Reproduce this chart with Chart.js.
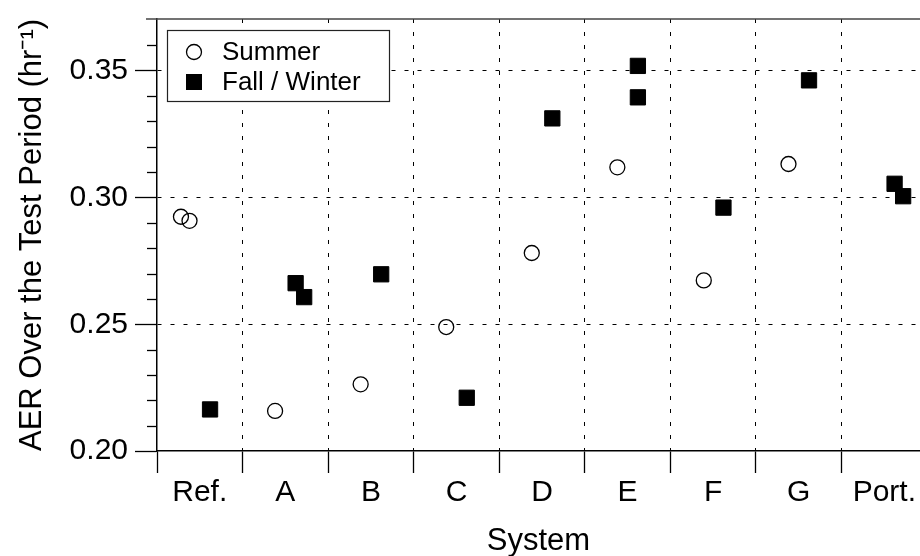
<!DOCTYPE html>
<html>
<head>
<meta charset="utf-8">
<script src="https://cdn.jsdelivr.net/npm/chart.js@4.4.1/dist/chart.umd.min.js"></script>
<style>
  html, body { margin: 0; padding: 0; background: #fff; }
  #wrap { width: 920px; height: 556px; }
</style>
</head>
<body>
<div id="wrap"><canvas id="aerChart"></canvas></div>
<script>
const systems = ['Ref.', 'A', 'B', 'C', 'D', 'E', 'F', 'G', 'Port.'];

// x = system index plus the small side offset used in the original plot
const summerX = [-0.22, -0.12, 0.88, 1.88, 2.88, 3.88, 4.88, 5.89, 6.88];
const summerAER = [0.2924, 0.2908, 0.2158, 0.2263, 0.2489, 0.2781, 0.3119, 0.2673, 0.3132];

const fallX = [0.12, 1.12, 1.22, 2.12, 3.12, 4.12, 5.12, 5.12, 6.12, 7.12, 8.12, 8.22];
const fallAER = [0.2164, 0.2662, 0.2607, 0.2697, 0.2210, 0.3312, 0.3519, 0.3395, 0.2960, 0.3462, 0.3054, 0.3005];

const yTicks = [0.20, 0.25, 0.30, 0.35];
const yMinorTicks = [0.21, 0.22, 0.23, 0.24, 0.26, 0.27, 0.28, 0.29, 0.31, 0.32, 0.33, 0.34, 0.36];
const xTicks = [-0.5, 0, 0.5, 1, 1.5, 2, 2.5, 3, 3.5, 4, 4.5, 5, 5.5, 6, 6.5, 7, 7.5, 8];

const FONT = "'Liberation Sans', Arial, Helvetica, sans-serif";

function toPoints(xs, ys) {
    return xs.map((x, i) => ({ x: x, y: ys[i] }));
}

// minor ticks, top frame line and the boxed legend
const extras = {
    id: 'extras',
    afterDraw(chart) {
        const ctx = chart.ctx;
        const ca = chart.chartArea;
        const yScale = chart.scales.y;

        ctx.save();
        ctx.strokeStyle = '#000';
        ctx.lineWidth = 1.3;
        yMinorTicks.forEach(v => {
            const py = Math.round(yScale.getPixelForValue(v)) + 0.5;
            ctx.beginPath();
            ctx.moveTo(ca.left - 10, py);
            ctx.lineTo(ca.left, py);
            ctx.stroke();
        });

        // top frame
        ctx.strokeStyle = '#444';
        ctx.lineWidth = 1.5;
        ctx.beginPath();
        ctx.moveTo(ca.left - 11, ca.top);
        ctx.lineTo(ca.right, ca.top);
        ctx.stroke();

        // legend
        const bx = ca.left + 10.5, by = ca.top + 11.5;
        ctx.fillStyle = '#fff';
        ctx.fillRect(bx, by, 222, 71);
        ctx.strokeStyle = '#222';
        ctx.lineWidth = 1.2;
        ctx.strokeRect(bx, by, 222, 71);

        ctx.beginPath();
        ctx.arc(ca.left + 37, ca.top + 33, 7.5, 0, Math.PI * 2);
        ctx.lineWidth = 1.3;
        ctx.strokeStyle = '#000';
        ctx.stroke();
        ctx.fillStyle = '#000';
        ctx.fillRect(ca.left + 29, ca.top + 55, 16, 16);

        ctx.font = '26px ' + FONT;
        ctx.textBaseline = 'middle';
        ctx.fillText('Summer', ca.left + 65, ca.top + 34);
        ctx.fillText('Fall / Winter', ca.left + 65, ca.top + 64);
        ctx.restore();
    }
};

new Chart(document.getElementById('aerChart'), {
    type: 'scatter',
    data: {
        datasets: [{
            label: 'Summer',
            data: toPoints(summerX, summerAER),
            pointStyle: 'circle',
            pointRadius: 7.5,
            pointBorderWidth: 1.3,
            borderColor: '#000',
            backgroundColor: 'rgba(255,255,255,0)',
            clip: false
        }, {
            label: 'Fall / Winter',
            data: toPoints(fallX, fallAER),
            pointStyle: 'rect',
            pointRadius: 10.8,
            pointBorderWidth: 1,
            borderColor: '#000',
            backgroundColor: '#000',
            clip: false
        }]
    },
    options: {
        responsive: true,
        maintainAspectRatio: false,
        animation: false,
        layout: { padding: { top: 19, right: 0, left: 0, bottom: 0 }, autoPadding: false },
        plugins: {
            legend: { display: false },
            tooltip: { enabled: false }
        },
        scales: {
            x: {
                type: 'linear',
                min: -0.5,
                max: 8.417,
                afterBuildTicks: scale => { scale.ticks = xTicks.map(v => ({ value: v })); },
                afterFit: scale => {
                    scale.height = 105;
                    scale.paddingLeft = 0;
                    scale.paddingRight = 0;
                },
                grid: {
                    color: c => (c.tick && !Number.isInteger(c.tick.value) && c.tick.value > -0.5) ? '#000' : 'rgba(0,0,0,0)',
                    tickColor: c => (c.tick && !Number.isInteger(c.tick.value)) ? '#000' : 'rgba(0,0,0,0)',
                    lineWidth: 1,
                    tickWidth: 1.3,
                    tickLength: 22
                },
                border: { display: true, color: '#000', width: 1.5, dash: [4, 9] },
                ticks: {
                    autoSkip: false,
                    maxRotation: 0,
                    padding: 2,
                    color: '#000',
                    font: { family: FONT, size: 30 },
                    callback: v => Number.isInteger(v) ? systems[v] : ''
                },
                title: {
                    display: true,
                    text: 'System',
                    color: '#000',
                    font: { family: FONT, size: 31 },
                    padding: { top: 0, bottom: -4 }
                }
            },
            y: {
                type: 'linear',
                min: 0.20,
                max: 0.3704,
                afterBuildTicks: scale => { scale.ticks = yTicks.map(v => ({ value: v })); },
                afterFit: scale => {
                    scale.width = 157;
                    scale.paddingTop = 0;
                    scale.paddingBottom = 0;
                },
                grid: {
                    color: c => (c.tick && c.tick.value > 0.2001) ? '#000' : 'rgba(0,0,0,0)',
                    tickColor: '#000',
                    lineWidth: 1,
                    tickWidth: 1.3,
                    tickLength: 22
                },
                border: { display: true, color: '#000', width: 1.5, dash: [4, 9] },
                ticks: {
                    padding: 7,
                    color: '#000',
                    font: { family: FONT, size: 30 },
                    callback: v => v.toFixed(2)
                },
                title: {
                    display: true,
                    text: 'AER Over the Test Period (hr\u207B\u00B9)',
                    color: '#000',
                    font: { family: FONT, size: 31 },
                    padding: { top: 14, bottom: 0 }
                }
            }
        }
    },
    plugins: [extras]
});
</script>
</body>
</html>
